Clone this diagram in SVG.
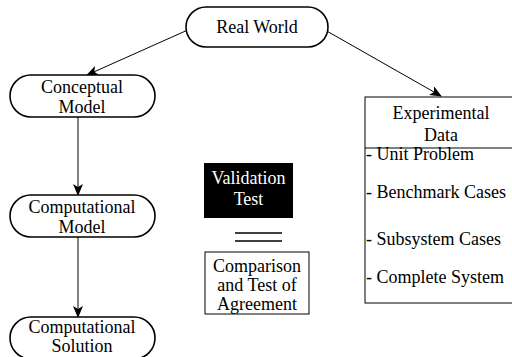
<svg xmlns="http://www.w3.org/2000/svg" width="512" height="357" viewBox="0 0 512 357">
  <defs>
    <style>
      .pill { fill: #fff; stroke: #000; stroke-width: 1.6; }
      .box { fill: #fff; stroke: #000; stroke-width: 1; }
      .lbl { text-anchor: middle; }
      .inv { fill: #fff; }
      .edge { fill: none; stroke: #000; stroke-width: 1; marker-end: url(#head); }
    </style>
    <marker id="head" viewBox="0 0 12 10" refX="11" refY="5" markerWidth="12" markerHeight="10" markerUnits="userSpaceOnUse" orient="auto">
      <path d="M0,0 L12,5 L0,10 L3,5 Z" fill="#000"/>
    </marker>
  </defs>
  <rect width="512" height="357" fill="#fff"/>

  <g id="connectors">
    <line class="edge" x1="190" y1="29" x2="87" y2="75"/>
    <line class="edge" x1="325" y1="30" x2="441" y2="96"/>
    <line class="edge" x1="78" y1="117" x2="78" y2="195"/>
    <line class="edge" x1="78" y1="237" x2="78" y2="317"/>
  </g>

  <g font-family="Liberation Serif, DejaVu Serif, serif" font-size="18">
  <g id="real-world">
    <rect class="pill" x="186" y="7" width="142" height="40" rx="20"/>
    <text class="lbl" x="257" y="33">Real World</text>
  </g>

  <g id="conceptual-model">
    <rect class="pill" x="10" y="75" width="145" height="42" rx="21"/>
    <text class="lbl" x="82" y="93">Conceptual</text>
    <text class="lbl" x="82" y="113">Model</text>
  </g>

  <g id="computational-model">
    <rect class="pill" x="10" y="195" width="145" height="42" rx="21"/>
    <text class="lbl" x="82" y="213">Computational</text>
    <text class="lbl" x="82" y="233">Model</text>
  </g>

  <g id="computational-solution">
    <rect class="pill" x="10" y="317" width="145" height="42" rx="21"/>
    <text class="lbl" x="82" y="333">Computational</text>
    <text class="lbl" x="82" y="352">Solution</text>
  </g>

  <g id="validation-test">
    <rect x="204" y="163" width="89" height="55" fill="#000"/>
    <text class="lbl inv" x="248.5" y="184">Validation</text>
    <text class="lbl inv" x="248.5" y="205">Test</text>
  </g>

  <g id="equals">
    <line x1="235" y1="233" x2="282" y2="233" stroke="#000" stroke-width="1.5"/>
    <line x1="235" y1="241" x2="282" y2="241" stroke="#000" stroke-width="1.5"/>
  </g>

  <g id="comparison">
    <rect class="box" x="205" y="252" width="104" height="62"/>
    <text class="lbl" x="257" y="272">Comparison</text>
    <text class="lbl" x="257" y="291">and Test of</text>
    <text class="lbl" x="257" y="310">Agreement</text>
  </g>

  <g id="experimental-data">
    <rect class="box" x="365" y="97" width="153" height="206"/>
    <line x1="365" y1="148" x2="518" y2="148" stroke="#000" stroke-width="1"/>
    <text class="lbl" x="441" y="119">Experimental</text>
    <text class="lbl" x="441" y="141">Data</text>
    <text x="366" y="160">- Unit Problem</text>
    <text x="366" y="198">- Benchmark Cases</text>
    <text x="366" y="245">- Subsystem Cases</text>
    <text x="366" y="283">- Complete System</text>
  </g>
  </g>
</svg>
